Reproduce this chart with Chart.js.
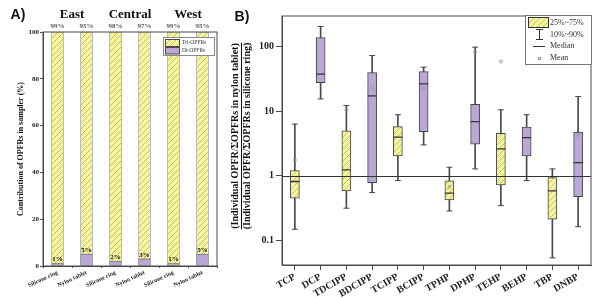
<!DOCTYPE html>
<html>
<head>
<meta charset="utf-8">
<script src="https://cdn.jsdelivr.net/npm/chart.js@4.4.0/dist/chart.umd.min.js"></script>
<style>
  body { margin: 0; background: #fff; }
  #wrap { position: relative; width: 600px; height: 298px; overflow: hidden; }
  canvas { position: absolute; top: 0; }
</style>
</head>
<body>
<div id="wrap">
  <canvas id="chartA" width="222" height="298" style="left:0"></canvas>
  <canvas id="chartB" width="378" height="298" style="left:222px"></canvas>
</div>
<script>
// Panel A - share of tri/di OPFRs per sampler
const sampleLabels = ['Silicone ring', 'Nylon tablet', 'Silicone ring', 'Nylon tablet', 'Silicone ring', 'Nylon tablet'];
const regionNames = ['East', 'Central', 'West'];
const triShare = [99, 95, 98, 97, 99, 95];
const diShare = [1, 5, 2, 3, 1, 5];
const shareTicks = [0, 20, 40, 60, 80, 100];

// Panel B - nylon/silicone ratio distribution per compound
const compounds = ['TCP', 'DCP', 'TDCIPP', 'BDCIPP', 'TCIPP', 'BCIPP', 'TPHP', 'DPHP', 'TEHP', 'BEHP', 'TBP', 'DNBP'];
const compoundGroup = ['tri', 'di', 'tri', 'di', 'tri', 'di', 'tri', 'di', 'tri', 'di', 'tri', 'di'];
const p10 = [0.147, 15.5, 0.312, 0.545, 0.84, 3.0, 0.283, 1.27, 0.342, 0.84, 0.053, 0.161];
const q1 = [0.446, 27.8, 0.578, 0.78, 2.02, 4.82, 0.42, 3.07, 0.72, 2.02, 0.21, 0.472];
const med = [0.81, 37.5, 1.23, 17.3, 3.95, 26.5, 0.533, 6.9, 2.6, 3.89, 0.58, 1.59];
const q3 = [1.2, 139, 4.94, 39.7, 5.77, 41.2, 0.83, 12.8, 4.55, 5.65, 0.93, 4.72];
const p90 = [6.3, 206, 12.2, 73, 8.8, 48.2, 1.35, 98.6, 10.5, 8.8, 1.27, 16.9];
const meanVal = [1.75, null, 10.5, 23.3, null, 22.8, 0.67, 82.4, 59, null, null, 4.29];
const ratioTicks = [0.1, 1, 10, 100];
const refRatio = 1;

const YELLOW = '#f6f59c';
const PURPLE = '#b9a7d6';
const EDGE = '#4a4a4a';
const SERIF = '"Liberation Serif", "DejaVu Serif", serif';

function makeHatch() {
  const c = document.createElement('canvas');
  c.width = 6; c.height = 6;
  const g = c.getContext('2d');
  g.fillStyle = YELLOW;
  g.fillRect(0, 0, 6, 6);
  g.strokeStyle = '#b4b46c';
  g.lineWidth = 0.8;
  g.beginPath();
  g.moveTo(0, 6); g.lineTo(6, 0);
  g.moveTo(-1, 1); g.lineTo(1, -1);
  g.moveTo(5, 7); g.lineTo(7, 5);
  g.stroke();
  return g.createPattern(c, 'repeat');
}
const hatch = makeHatch();

const panelA = {
  id: 'panelA',
  afterDraw(chart) {
    const ctx = chart.ctx, ca = chart.chartArea, x = chart.scales.x;
    ctx.save();
    ctx.strokeStyle = EDGE; ctx.lineWidth = 1;
    ctx.strokeRect(ca.left, ca.top, ca.right - ca.left, ca.bottom - ca.top);

    // percent labels
    const tri = chart.getDatasetMeta(1).data, di = chart.getDatasetMeta(0).data;
    ctx.textAlign = 'center'; ctx.textBaseline = 'bottom';
    ctx.font = 'bold 7px ' + SERIF;
    tri.forEach((el, i) => {
      ctx.fillStyle = '#555';
      ctx.fillText(triShare[i] + '%', el.x, ca.top - 2);
      ctx.fillStyle = '#111';
      ctx.fillText(diShare[i] + '%', di[i].x, di[i].y - 0.5);
    });

    // regions
    ctx.font = 'bold 13px ' + SERIF;
    ctx.fillStyle = '#111'; ctx.textBaseline = 'middle';
    regionNames.forEach((r, i) => {
      const cx = (x.getPixelForValue(i * 2) + x.getPixelForValue(i * 2 + 1)) / 2;
      ctx.fillText(r, cx, 15);
    });

    ctx.font = 'bold 14px "Liberation Sans", Arial, sans-serif';
    ctx.fillText('A)', 18, 15);

    // y title
    ctx.save();
    ctx.translate(21, (ca.top + ca.bottom) / 2);
    ctx.rotate(-Math.PI / 2);
    ctx.font = 'bold 8px ' + SERIF;
    ctx.fillText('Contribution of OPFRs in sampler (%)', 0, 0);
    ctx.restore();

    // legend
    ctx.fillStyle = '#fff';
    ctx.fillRect(163, 37, 51, 18);
    ctx.strokeStyle = '#888';
    ctx.strokeRect(163.5, 37.5, 51, 18);
    ctx.fillStyle = hatch; ctx.fillRect(165, 39, 14, 7);
    ctx.strokeStyle = EDGE; ctx.strokeRect(165.5, 39.5, 14, 7);
    ctx.fillStyle = PURPLE; ctx.fillRect(165, 47.5, 14, 6.5);
    ctx.strokeRect(165.5, 47.5, 14, 6.5);
    ctx.fillStyle = '#333'; ctx.textAlign = 'left';
    ctx.font = '5.5px ' + SERIF;
    ctx.fillText('Tri-OPFRs', 182, 43);
    ctx.fillText('Di-OPFRs', 182, 51);
    ctx.restore();
  }
};

new Chart(document.getElementById('chartA'), {
  type: 'bar',
  data: {
    labels: sampleLabels,
    datasets: [
      { label: 'Di-OPFRs', data: diShare, backgroundColor: PURPLE, borderColor: '#777', borderWidth: 0.8, borderSkipped: false, barThickness: 12 },
      { label: 'Tri-OPFRs', data: triShare, backgroundColor: hatch, borderColor: '#999', borderWidth: 0.8, borderSkipped: false, barThickness: 12 }
    ]
  },
  options: {
    responsive: false, animation: false, devicePixelRatio: 1,
    layout: { padding: { top: 32, right: 5, left: 0, bottom: 0 } },
    plugins: { legend: { display: false }, tooltip: { enabled: false } },
    scales: {
      x: {
        stacked: true,
        grid: { display: true, drawOnChartArea: false, tickLength: 2, color: EDGE },
        border: { color: EDGE },
        ticks: { autoSkip: false, minRotation: 25, maxRotation: 25, padding: 1, color: '#222', font: { family: SERIF, size: 6, weight: 'bold' } },
        afterFit: s => { s.height = 32; }
      },
      y: {
        stacked: true, min: 0, max: 100,
        afterBuildTicks: s => { s.ticks = shareTicks.map(v => ({ value: v })); },
        grid: { drawOnChartArea: false, tickLength: 3, color: EDGE },
        border: { color: EDGE },
        ticks: { padding: 1, color: '#222', font: { family: SERIF, size: 7, weight: 'bold' } },
        afterFit: s => { s.width = 43; }
      }
    }
  },
  plugins: [panelA]
});

const panelB = {
  id: 'panelB',
  afterDatasetsDraw(chart) {
    const ctx = chart.ctx, ca = chart.chartArea, y = chart.scales.y;
    const ry = Math.round(y.getPixelForValue(refRatio)) + 0.5;
    ctx.save();
    ctx.strokeStyle = '#333'; ctx.lineWidth = 1;
    ctx.beginPath(); ctx.moveTo(ca.left, ry); ctx.lineTo(ca.right, ry); ctx.stroke();
    ctx.restore();
  },
  afterDraw(chart) {
    const ctx = chart.ctx, ca = chart.chartArea;
    ctx.save();
    ctx.strokeStyle = EDGE; ctx.lineWidth = 1;
    ctx.strokeRect(ca.left, ca.top, ca.right - ca.left, ca.bottom - ca.top);

    ctx.fillStyle = '#111';
    ctx.textAlign = 'center'; ctx.textBaseline = 'middle';
    ctx.font = 'bold 14px "Liberation Sans", Arial, sans-serif';
    ctx.fillText('B)', 20, 17);

    // y title as a fraction
    const cy = 136;
    ctx.save();
    ctx.translate(0, cy);
    ctx.rotate(-Math.PI / 2);
    ctx.font = 'bold 10px ' + SERIF;
    const t1 = '(Individual OPFR/ΣOPFRs in nylon tablet)';
    const t2 = '(Individual OPFR/ΣOPFRs in silicone ring)';
    ctx.fillText(t1, 0, 13);
    ctx.fillText(t2, 0, 25.5);
    const w = Math.max(ctx.measureText(t1).width, ctx.measureText(t2).width);
    ctx.strokeStyle = '#111'; ctx.lineWidth = 1;
    ctx.beginPath(); ctx.moveTo(-w / 2, 19.5); ctx.lineTo(w / 2, 19.5); ctx.stroke();
    ctx.restore();

    // legend
    const lx = 303, ly = 15;
    ctx.fillStyle = '#fff';
    ctx.fillRect(lx, ly, 66, 49);
    ctx.strokeStyle = '#777';
    ctx.strokeRect(lx + 0.5, ly + 0.5, 66, 49);
    ctx.fillStyle = hatch; ctx.fillRect(lx + 3, ly + 2, 20, 10);
    ctx.strokeStyle = '#333'; ctx.strokeRect(lx + 3.5, ly + 2.5, 20, 10);
    ctx.beginPath();
    ctx.moveTo(lx + 14.5, ly + 14); ctx.lineTo(lx + 14.5, ly + 24);
    ctx.moveTo(lx + 11, ly + 14.5); ctx.lineTo(lx + 18, ly + 14.5);
    ctx.moveTo(lx + 11, ly + 24.5); ctx.lineTo(lx + 18, ly + 24.5);
    ctx.moveTo(lx + 8, ly + 31.5); ctx.lineTo(lx + 20, ly + 31.5);
    ctx.stroke();
    ctx.strokeStyle = '#999';
    ctx.strokeRect(lx + 13.5, ly + 42.5, 2, 2);
    ctx.fillStyle = '#333'; ctx.textAlign = 'left';
    ctx.font = '8px ' + SERIF;
    ctx.fillText('25%~75%', lx + 25, ly + 8);
    ctx.fillText('10%~90%', lx + 25, ly + 20);
    ctx.fillText('Median', lx + 25, ly + 31);
    ctx.fillText('Mean', lx + 25, ly + 43);
    ctx.restore();
  }
};

const boxFill = compoundGroup.map(g => g === 'tri' ? hatch : PURPLE);

new Chart(document.getElementById('chartB'), {
  type: 'bar',
  data: {
    labels: compounds,
    datasets: [
      { type: 'line', label: 'Mean', data: meanVal, showLine: false, pointStyle: 'rect', pointRadius: 1.8, pointBorderWidth: 0.8, pointBorderColor: '#999', pointBackgroundColor: 'rgba(0,0,0,0)', order: 0 },
      { type: 'line', label: 'Median', data: med, showLine: false, pointStyle: 'line', pointRadius: 4.5, pointBorderWidth: 1.3, pointBorderColor: '#333', order: 1 },
      { type: 'line', label: '90%', data: p90, showLine: false, pointStyle: 'line', pointRadius: 3, pointBorderWidth: 1, pointBorderColor: EDGE, order: 1 },
      { type: 'line', label: '10%', data: p10, showLine: false, pointStyle: 'line', pointRadius: 3, pointBorderWidth: 1, pointBorderColor: EDGE, order: 1 },
      { type: 'bar', label: '25%~75%', data: compounds.map((c, i) => [q1[i], q3[i]]), backgroundColor: boxFill, borderColor: '#444', borderWidth: 1, borderSkipped: false, barThickness: 9, grouped: false, order: 2 },
      { type: 'bar', label: '10%~90%', data: compounds.map((c, i) => [p10[i], p90[i]]), backgroundColor: EDGE, borderWidth: 0, barThickness: 1, grouped: false, order: 3 }
    ]
  },
  options: {
    responsive: false, animation: false, devicePixelRatio: 1,
    layout: { padding: { top: 16, right: 9, left: 0, bottom: 0 } },
    plugins: { legend: { display: false }, tooltip: { enabled: false } },
    scales: {
      x: {
        grid: { display: true, offset: false, drawOnChartArea: false, tickLength: 5, color: EDGE },
        border: { color: EDGE },
        ticks: { autoSkip: false, minRotation: 30, maxRotation: 30, padding: 1, color: '#222', font: { family: SERIF, size: 10, weight: 'bold' } },
        afterFit: s => { s.height = 33; }
      },
      y: {
        type: 'logarithmic', min: 0.041, max: 300,
        afterBuildTicks: s => { s.ticks = ratioTicks.map(v => ({ value: v })); },
        grid: { drawOnChartArea: false, tickLength: 6, color: EDGE },
        border: { color: EDGE },
        ticks: { padding: 2, color: '#222', font: { family: SERIF, size: 10, weight: 'bold' }, callback: v => String(v) },
        afterFit: s => { s.width = 60; }
      }
    }
  },
  plugins: [panelB]
});
</script>
</body>
</html>
